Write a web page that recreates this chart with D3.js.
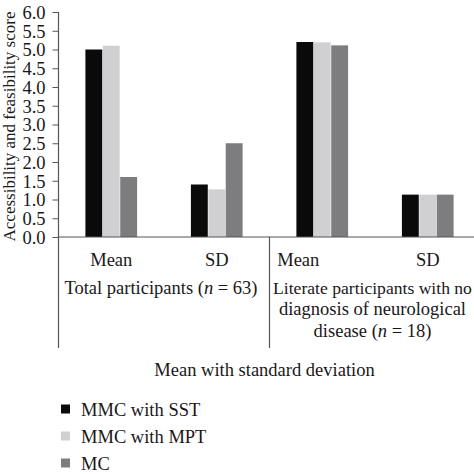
<!DOCTYPE html>
<html>
<head>
<meta charset="utf-8">
<script src="https://cdn.jsdelivr.net/npm/d3@7"></script>
<style>
  body { margin: 0; background: #fff; }
  svg { display: block; }
  text { font-family: "Liberation Serif", "DejaVu Serif", serif; fill: #1a1718; }
</style>
</head>
<body>
<div id="chart"></div>
<script>
var categories = ["Mean", "SD", "Mean", "SD"];
var series = ["MMC with SST", "MMC with MPT", "MC"];
var sst = [5.0, 1.4, 5.2, 1.13];
var mpt = [5.1, 1.27, 5.19, 1.13];
var mc = [1.6, 2.5, 5.11, 1.13];
var yTicks = [0, 0.5, 1, 1.5, 2, 2.5, 3, 3.5, 4, 4.5, 5, 5.5, 6];
var groupLines = [["Total participants (", "n", " = 63)"]];
var groupLines2 = [
  ["Literate participants with no"],
  ["diagnosis of neurological"],
  ["disease (", "n", " = 18)"]
];
var colors = ["#0a0a0b", "#d0d0d2", "#7d7d80"];

var width = 474, height = 474;
var x0 = 58.5, x1 = 480.5, yTop = 12, yBase = 237;

var svg = d3.select("#chart").append("svg")
    .attr("width", width)
    .attr("height", height);

var x_band = d3.scaleBand().domain(d3.range(categories.length)).range([x0, x1]).paddingInner(0.5).paddingOuter(0.25);
var x_sub = d3.scaleBand().domain(d3.range(series.length)).range([0, x_band.bandwidth()]).padding(0.03);
var y_bar = d3.scaleLinear().domain([0, 6]).range([yBase, yTop]);

var data = [sst, mpt, mc];

var groups = svg.selectAll(".grp")
    .data(categories)
    .enter().append("g")
    .attr("class", "grp")
    .attr("transform", function(d, i) { return "translate(" + x_band(i) + ",0)"; });

groups.selectAll("rect")
    .data(function(d, i) { return data.map(function(s, j) { return {s: j, v: s[i]}; }); })
    .enter().append("rect")
    .attr("x", function(d) { return x_sub(d.s); })
    .attr("width", x_sub.bandwidth())
    .attr("y", function(d) { return y_bar(d.v); })
    .attr("height", function(d) { return yBase - y_bar(d.v); })
    .style("fill", function(d) { return colors[d.s]; });

// y axis
var yAxis = d3.axisLeft(y_bar).tickValues(yTicks).tickSize(6).tickPadding(7).tickFormat(d3.format(".1f"));
var gy = svg.append("g")
    .attr("transform", "translate(" + x0 + ",0)")
    .call(yAxis);
gy.select(".domain").remove();
gy.selectAll(".tick line").attr("stroke", "#555");
gy.selectAll(".tick text").style("font-size", "18.5px").attr("fill", "#1a1718").attr("dy", "0.34em");

// axis lines
svg.append("line").attr("x1", x0).attr("x2", x0).attr("y1", yTop).attr("y2", 348).attr("stroke", "#555").attr("stroke-width", 1.2);
svg.append("line").attr("x1", x0).attr("x2", width).attr("y1", yBase).attr("y2", yBase).attr("stroke", "#555").attr("stroke-width", 1.2);
var sep = (x0 + x1) / 2;
svg.append("line").attr("x1", sep).attr("x2", sep).attr("y1", yBase).attr("y2", 348).attr("stroke", "#555").attr("stroke-width", 1.2);

// category labels
svg.selectAll(".cat")
    .data(categories)
    .enter().append("text")
    .attr("class", "cat")
    .attr("x", function(d, i) { return x_band(i) + x_band.bandwidth() / 2 + (i == 2 ? -24 : 0); })
    .attr("y", 266)
    .attr("text-anchor", "middle")
    .style("font-size", "18.5px")
    .text(function(d) { return d; });

function addLines(lines, cx, y0, maxW) {
  lines.forEach(function(parts, k) {
    var t = svg.append("text")
        .attr("x", cx)
        .attr("y", y0 + k * 21.5)
        .attr("text-anchor", "middle")
        .style("font-size", "18.5px");
    parts.forEach(function(p, m) {
      t.append("tspan").text(p).style("font-style", p == "n" ? "italic" : "normal");
    });
    // shrink a line that would run past the right edge
    if (maxW) {
      var w = t.node().getComputedTextLength();
      if (w > maxW) t.style("font-size", (18.5 * maxW / w) + "px");
    }
  });
}
addLines(groupLines, (x0 + sep) / 2 - 3, 293.5);
addLines(groupLines2, 372.5, 293.5, 2 * (width - 2 - 372.5));

// axis titles
svg.append("text")
    .attr("x", (x0 + x1) / 2 - 5)
    .attr("y", 376)
    .attr("text-anchor", "middle")
    .style("font-size", "18.5px")
    .text("Mean with standard deviation");

svg.append("text")
    .attr("transform", "translate(15," + ((yTop + yBase) / 2 + 2) + ") rotate(-90)")
    .attr("text-anchor", "middle")
    .style("font-size", "17px")
    .text("Accessibility and feasibility score");

// legend
var legend = svg.selectAll(".leg")
    .data(series)
    .enter().append("g")
    .attr("class", "leg")
    .attr("transform", function(d, i) { return "translate(61," + (409 + i * 27) + ")"; });
legend.append("rect")
    .attr("x", 0).attr("y", -4.5).attr("width", 9).attr("height", 9)
    .style("fill", function(d, i) { return colors[i]; });
legend.append("text")
    .attr("x", 20).attr("y", 6.5)
    .style("font-size", "18.5px")
    .text(function(d) { return d; });
</script>
</body>
</html>
